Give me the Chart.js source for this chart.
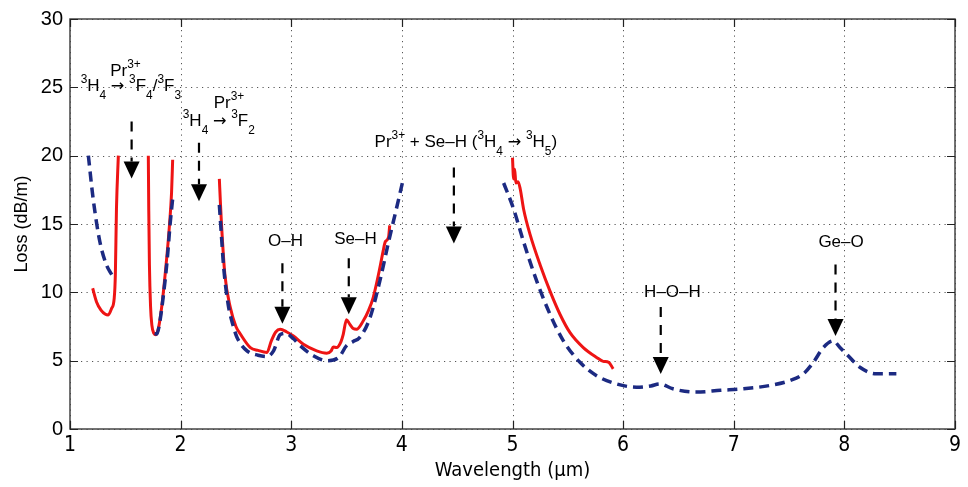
<!DOCTYPE html>
<html>
<head>
<meta charset="utf-8">
<script src="https://cdn.jsdelivr.net/npm/chart.js@4.4.1/dist/chart.umd.min.js"></script>
<style>
  body { margin: 0; background: #fff; }
  #wrap { width: 968px; height: 487px; }
</style>
</head>
<body>
<div id="wrap"><canvas id="lossChart" width="968" height="487"></canvas></div>
<script>
// Measured loss curves (wavelength in um, loss in dB/m)
var red1 = [[1.205,10.3],[1.24,9.3],[1.28,8.7],[1.32,8.4],[1.345,8.35],[1.375,8.8],[1.40,9.6],[1.41,11.3],[1.42,16.1],[1.437,20]];
var red2 = [[1.708,20],[1.712,16],[1.718,12],[1.728,9],[1.74,7.6],[1.758,7.0],[1.777,6.9],[1.80,7.4],[1.83,9],[1.874,12.5],[1.90,15],[1.918,17.3],[1.928,19.7]];
var red3 = [[2.35,18.3],[2.36,16.5],[2.37,14.9],[2.40,11.3],[2.45,8.86],[2.50,7.5],[2.54,6.95],[2.63,5.96],[2.70,5.75],[2.78,5.6],[2.82,6.45],[2.86,7.1],[2.90,7.3],[2.96,7.1],[3.02,6.8],[3.11,6.2],[3.23,5.72],[3.32,5.55],[3.36,5.7],[3.38,6.0],[3.41,5.96],[3.45,6.4],[3.47,6.93],[3.50,8.0],[3.53,7.65],[3.56,7.35],[3.59,7.3],[3.65,7.9],[3.70,8.7],[3.74,9.6],[3.80,11.75],[3.83,13.0],[3.85,13.7],[3.88,14.06],[3.89,14.9]];
var red4 = [[5.0,19.85],[5.01,18.3],[5.02,19.0],[5.03,18.0],[5.05,18.1],[5.07,17.56],[5.10,16.1],[5.16,14.2],[5.25,12.0],[5.34,10.07],[5.43,8.38],[5.52,7.05],[5.64,5.96],[5.76,5.24],[5.82,4.95],[5.87,4.88],[5.91,4.4]];

var blue1 = [[1.166,20],[1.21,16.8],[1.27,13.7],[1.33,12],[1.377,11.3]];
var blue2 = [[1.765,7.0],[1.785,6.95],[1.805,7.5],[1.84,9.5],[1.88,12.5],[1.905,15.0],[1.93,17.0]];
var blue3 = [[2.35,16.4],[2.37,14],[2.39,11.75],[2.43,9.1],[2.47,7.7],[2.51,6.7],[2.60,5.72],[2.70,5.4],[2.78,5.3],[2.84,5.72],[2.90,6.9],[2.95,7.0],[3.02,6.6],[3.08,6.1],[3.20,5.36],[3.32,5.0],[3.43,5.24],[3.50,6.1],[3.56,6.4],[3.62,6.7],[3.71,8.1],[3.80,10.8],[3.88,13.7],[3.95,16.1],[4.01,18.2]];
var blue4 = [[4.92,18.0],[5.01,16.1],[5.10,13.7],[5.22,10.8],[5.34,8.38],[5.46,6.45],[5.61,4.88],[5.76,3.9],[5.94,3.3],[6.12,3.06],[6.25,3.15],[6.33,3.3],[6.45,2.94],[6.66,2.70],[6.88,2.83],[7.09,2.94],[7.33,3.19],[7.51,3.55],[7.63,4.04],[7.72,4.88],[7.81,5.96],[7.90,6.45],[7.96,5.96],[8.02,5.48],[8.14,4.52],[8.29,4.04],[8.47,4.04]];

// Axis ticks
var xTicks = [1, 2, 3, 4, 5, 6, 7, 8, 9];
var yTicks = [0, 5, 10, 15, 20, 25, 30];

// Annotations (data units)
var labelText = [
  "Pr^{3+}",
  "^{3}H_{4} \u2192 ^{3}F_{4}/^{3}F_{3}",
  "Pr^{3+}",
  "^{3}H_{4} \u2192 ^{3}F_{2}",
  "Pr^{3+} + Se\u2013H (^{3}H_{4} \u2192 ^{3}H_{5})",
  "O\u2013H",
  "Se\u2013H",
  "H\u2013O\u2013H",
  "Ge\u2013O"
];
var labelX = [1.502, 1.55, 2.437, 2.345, 4.578, 2.948, 3.58, 6.446, 7.97];
var labelY = [25.8, 24.73, 23.48, 22.15, 20.63, 13.4, 13.57, 9.64, 13.33];
var arrowX    = [1.557, 2.166, 4.47, 2.92, 3.52, 6.34, 7.92];
var arrowFrom = [22.5, 20.94, 19.13, 12.12, 12.49, 8.92, 12.03];
var arrowTo   = [18.33, 16.67, 13.57, 7.7, 8.4, 4.03, 6.8];

var RED = "#ee1414";
var BLUE = "#1c2a82";
var TEXT_FONT = "'Liberation Sans', Arial, sans-serif";
var ARROW_FONT = "'DejaVu Sans', sans-serif";
var NARROW_FONT = "'Liberation Sans Narrow', 'DejaVu Sans Condensed', 'Liberation Sans', sans-serif";

function toPoints(arr) {
  return arr.map(function (p) { return { x: p[0], y: p[1] }; });
}

function lineSet(arr, dashed) {
  return {
    data: toPoints(arr),
    showLine: true,
    pointRadius: 0,
    borderColor: dashed ? BLUE : RED,
    borderWidth: dashed ? 3.5 : 3,
    borderDash: dashed ? [10, 6] : [],
    cubicInterpolationMode: "monotone",
    fill: false
  };
}

// Text with ^{sup} and _{sub} parts; the arrow gets a wider glyph
function parseRich(str) {
  var parts = [];
  var re = /(\^|_)\{([^}]*)\}|(\u2192)|([^\^_\u2192]+)/g;
  var m;
  while ((m = re.exec(str))) {
    if (m[4]) parts.push({ t: m[4], k: 0 });
    else if (m[3]) parts.push({ t: m[3], k: 0, arrow: true });
    else parts.push({ t: m[2], k: m[1] === "^" ? 1 : -1 });
  }
  return parts;
}

function partFont(p, size) {
  if (p.arrow) return (size * 0.95) + "px " + ARROW_FONT;
  return (p.k ? size * 0.7 : size) + "px " + TEXT_FONT;
}

function drawRich(ctx, str, cx, baseY, size) {
  var parts = parseRich(str);
  var total = 0;
  parts.forEach(function (p) {
    ctx.font = partFont(p, size);
    p.w = ctx.measureText(p.t).width;
    total += p.w;
  });
  var x = cx - total / 2;
  parts.forEach(function (p) {
    ctx.font = partFont(p, size);
    var dy = p.k > 0 ? -0.5 * size : (p.k < 0 ? 0.45 * size : 0);
    if (p.arrow) dy = -0.02 * size;
    ctx.fillText(p.t, x, baseY + dy);
    x += p.w;
  });
}

// Dotted grid under the curves; frame, ticks, arrows and labels on top
var gridPlugin = {
  id: "dottedGrid",
  beforeDatasetsDraw: function (chart) {
    var ctx = chart.ctx, a = chart.chartArea;
    var xs = chart.scales.x, ys = chart.scales.y;
    ctx.save();
    ctx.strokeStyle = "#555";
    ctx.lineWidth = 1;
    ctx.setLineDash([1.2, 4.3]);
    xTicks.forEach(function (v) {
      var px = Math.round(xs.getPixelForValue(v)) + 0.5;
      ctx.beginPath(); ctx.moveTo(px, a.top); ctx.lineTo(px, a.bottom); ctx.stroke();
    });
    yTicks.forEach(function (v) {
      var py = Math.round(ys.getPixelForValue(v)) + 0.5;
      ctx.beginPath(); ctx.moveTo(a.left, py); ctx.lineTo(a.right, py); ctx.stroke();
    });
    ctx.restore();
  },
  afterDatasetsDraw: function (chart) {
    var ctx = chart.ctx, a = chart.chartArea;
    var xs = chart.scales.x, ys = chart.scales.y;
    var i;
    ctx.save();

    // frame and inward ticks
    ctx.strokeStyle = "#444";
    ctx.lineWidth = 1.5;
    ctx.strokeRect(a.left, a.top, a.right - a.left, a.bottom - a.top);
    ctx.lineWidth = 1.2;
    ctx.strokeStyle = "#222";
    xTicks.forEach(function (v) {
      var px = Math.round(xs.getPixelForValue(v)) + 0.5;
      ctx.beginPath();
      ctx.moveTo(px, a.bottom); ctx.lineTo(px, a.bottom - 8);
      ctx.moveTo(px, a.top); ctx.lineTo(px, a.top + 8);
      ctx.stroke();
    });
    yTicks.forEach(function (v) {
      var py = Math.round(ys.getPixelForValue(v)) + 0.5;
      ctx.beginPath();
      ctx.moveTo(a.left, py); ctx.lineTo(a.left + 8, py);
      ctx.moveTo(a.right, py); ctx.lineTo(a.right - 8, py);
      ctx.stroke();
    });

    // arrows
    ctx.strokeStyle = "#000";
    ctx.fillStyle = "#000";
    for (i = 0; i < arrowX.length; i++) {
      var ax = xs.getPixelForValue(arrowX[i]);
      var y0 = ys.getPixelForValue(arrowFrom[i]);
      var tip = ys.getPixelForValue(arrowTo[i]);
      ctx.lineWidth = 2.2;
      ctx.setLineDash([10, 8]);
      ctx.beginPath(); ctx.moveTo(ax, y0); ctx.lineTo(ax, tip - 17); ctx.stroke();
      ctx.setLineDash([]);
      ctx.beginPath();
      ctx.moveTo(ax - 8, tip - 17); ctx.lineTo(ax + 8, tip - 17); ctx.lineTo(ax, tip);
      ctx.closePath(); ctx.fill();
    }

    // labels
    ctx.textBaseline = "alphabetic";
    ctx.textAlign = "left";
    for (i = 0; i < labelText.length; i++) {
      drawRich(ctx, labelText[i], xs.getPixelForValue(labelX[i]), ys.getPixelForValue(labelY[i]), 17);
    }
    ctx.restore();
  }
};

new Chart(document.getElementById("lossChart"), {
  type: "scatter",
  data: {
    datasets: [
      lineSet(blue1, true), lineSet(blue2, true), lineSet(blue3, true), lineSet(blue4, true),
      lineSet(red1, false), lineSet(red2, false), lineSet(red3, false), lineSet(red4, false)
    ]
  },
  options: {
    responsive: false,
    animation: false,
    layout: { padding: { top: 15, right: 13, left: 0, bottom: 0 } },
    plugins: { legend: { display: false }, tooltip: { enabled: false } },
    scales: {
      x: {
        type: "linear", min: 1, max: 9,
        afterBuildTicks: function (s) { s.ticks = xTicks.map(function (v) { return { value: v }; }); },
        afterFit: function (s) { s.height = 58; },
        grid: { display: false, drawTicks: false },
        border: { display: false },
        ticks: { color: "#000", padding: 4, font: { family: NARROW_FONT, size: 21 } },
        title: { display: true, text: "Wavelength (\u00b5m)", color: "#000", padding: { top: 0, bottom: 4 }, font: { family: NARROW_FONT, size: 20 } }
      },
      y: {
        type: "linear", min: 0, max: 30,
        afterBuildTicks: function (s) { s.ticks = yTicks.map(function (v) { return { value: v }; }); },
        afterFit: function (s) { s.width = 70; },
        grid: { display: false, drawTicks: false },
        border: { display: false },
        ticks: { color: "#000", padding: 7, font: { family: TEXT_FONT, size: 20 } },
        title: { display: true, text: "Loss (dB/m)", color: "#000", padding: { top: 11, bottom: 0 }, font: { family: TEXT_FONT, size: 18 } }
      }
    }
  },
  plugins: [gridPlugin]
});
</script>
</body>
</html>
